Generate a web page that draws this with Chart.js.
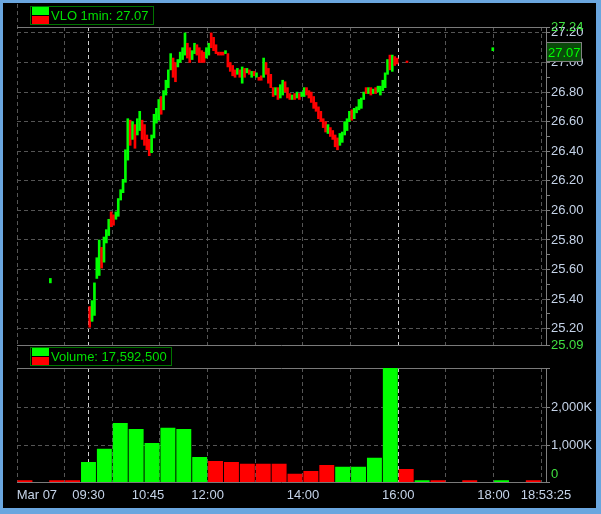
<!DOCTYPE html>
<html>
<head>
<meta charset="utf-8">
<script src="https://cdn.jsdelivr.net/npm/chart.js@4.4.1/dist/chart.umd.min.js"></script>
<style>
  html, body { margin: 0; padding: 0; }
  body { width: 601px; height: 514px; overflow: hidden; position: relative; background: #6aa6df;
         font-family: "Liberation Sans", Arial, sans-serif; }
  #screen { position: absolute; left: 3px; top: 3px; width: 593px; height: 505px; background: #000; }
  canvas { position: absolute; left: 0; }
  #priceCanvas { top: 0; }
  #volCanvas { top: 346px; }
  .edge { position: absolute; left: 17px; top: 4px; width: 1px; height: 478px;
          background: repeating-linear-gradient(to bottom, #555 0 4px, transparent 4px 7px); }
  .legend { position: absolute; left: 30px; height: 17px; border: 1px solid #007400;
            color: #00e000; font-size: 13px; line-height: 17px; padding: 0 4px 0 20px; white-space: nowrap; }
  .legend .up { position: absolute; left: 1px; top: 0; width: 17px; height: 8px; background: #00ff00; }
  .legend .dn { position: absolute; left: 1px; top: 9px; width: 17px; height: 8px; background: #ff0000; }
</style>
</head>
<body>
<div id="screen"></div>
<div class="edge"></div>
<canvas id="priceCanvas" width="601" height="354"></canvas>
<canvas id="volCanvas" width="601" height="162"></canvas>
<div class="legend" style="top:6px"><span class="up"></span><span class="dn"></span>VLO 1min: 27.07</div>
<div class="legend" style="top:347px"><span class="up"></span><span class="dn"></span>Volume: 17,592,500</div>
<script>
// 3-minute bars from the open
const sessionOpen = "09:30";
const barMinutes = 3;
const sessionHigh = [
  25.35, 25.39, 25.51, 25.68, 25.80, 25.75, 25.82, 25.87, 25.94, 25.99,
  25.97, 25.99, 26.08, 26.14, 26.21, 26.41, 26.62, 26.61, 26.60, 26.58,
  26.62, 26.67, 26.61, 26.58, 26.51, 26.48, 26.51, 26.65, 26.69, 26.75,
  26.77, 26.81, 26.88, 26.95, 27.06, 27.03, 27.00, 27.02, 27.07, 27.10,
  27.20, 27.13, 27.10, 27.08, 27.13, 27.12, 27.10, 27.08, 27.07, 27.10,
  27.13, 27.20, 27.17, 27.12, 27.07, 27.07, 27.07, 27.08, 27.06, 27.00,
  26.98, 26.95, 26.96, 26.95, 26.97, 26.96, 26.96, 26.95, 26.94, 26.94,
  26.93, 26.90, 26.91, 27.03, 27.00, 26.96, 26.92, 26.83, 26.83, 26.83,
  26.85, 26.88, 26.87, 26.83, 26.79, 26.78, 26.79, 26.80, 26.79, 26.80,
  26.83, 26.83, 26.81, 26.80, 26.77, 26.73, 26.70, 26.67, 26.62, 26.60,
  26.58, 26.56, 26.54, 26.51, 26.49, 26.52, 26.53, 26.60, 26.62, 26.67,
  26.68, 26.69, 26.70, 26.75, 26.76, 26.80, 26.83, 26.83, 26.83, 26.82,
  26.83, 26.84, 26.84, 26.88, 26.93, 27.02, 27.05, 27.05, 27.04, 27.03
];
const sessionLow = [
  25.21, 25.25, 25.29, 25.54, 25.56, 25.61, 25.65, 25.78, 25.83, 25.89,
  25.90, 25.94, 25.96, 26.07, 26.12, 26.19, 26.34, 26.44, 26.48, 26.42,
  26.51, 26.54, 26.48, 26.44, 26.41, 26.37, 26.39, 26.49, 26.59, 26.61,
  26.65, 26.68, 26.78, 26.83, 26.95, 26.90, 26.87, 26.97, 27.00, 27.02,
  27.05, 27.03, 27.00, 27.02, 27.06, 27.05, 27.00, 27.00, 27.00, 27.03,
  27.05, 27.10, 27.08, 27.06, 27.05, 27.05, 27.05, 27.06, 26.97, 26.94,
  26.91, 26.90, 26.92, 26.90, 26.86, 26.90, 26.93, 26.92, 26.90, 26.91,
  26.90, 26.88, 26.88, 26.90, 26.92, 26.86, 26.83, 26.77, 26.78, 26.75,
  26.76, 26.78, 26.80, 26.76, 26.75, 26.75, 26.75, 26.76, 26.75, 26.77,
  26.77, 26.78, 26.76, 26.73, 26.69, 26.67, 26.62, 26.60, 26.56, 26.53,
  26.52, 26.50, 26.48, 26.43, 26.41, 26.44, 26.46, 26.51, 26.54, 26.60,
  26.61, 26.62, 26.66, 26.68, 26.69, 26.75, 26.79, 26.79, 26.78, 26.79,
  26.79, 26.80, 26.78, 26.81, 26.83, 26.92, 26.95, 26.94, 26.98, 26.99
];
// G = close above open, R = close below open
const sessionDir = [
  "RGGGGRGGGR", "RGGGGGGRGR", "GGRRRRGGGG", "RGGGGRRGGG", "GRRGGRRRRG",
  "GRRRRRRGRR", "RRGRGRGRGR", "GRRGRRRRGR", "GGRRRGRGRG", "GRRRRRRRRR",
  "GRRRRGGGGG", "RGGGGGRGRG", "RGGGGGRGRR"
].join("");

// odd trades outside the session
const extraTimes = ["08:42", "16:11", "17:59"];
const extraHigh = [25.54, 27.01, 27.10];
const extraLow = [25.51, 27.00, 27.08];
const extraDir = "GRG";

const lastPrice = 27.07;

// 20-minute volume bars (start time)
const volStart = ["08:00", "08:40", "09:00", "09:20", "09:40", "10:00", "10:20", "10:40", "11:00", "11:20",
  "11:40", "12:00", "12:20", "12:40", "13:00", "13:20", "13:40", "14:00", "14:20", "14:40",
  "15:00", "15:20", "15:40", "16:00", "16:20", "16:40", "17:20", "18:00", "18:40"];
const volValues = [60000, 60000, 60000, 544000, 901000, 1590000, 1429000, 1054000, 1464000, 1429000,
  678000, 571000, 544000, 499000, 499000, 499000, 230000, 303000, 464000, 419000,
  419000, 660000, 3060000, 357000, 60000, 60000, 60000, 60000, 60000];
const volDir = "RRRGGGGGGGGRRRRRRRRGGGGRGRRGR";

// axes
const timeMin = "08:00";
const timeMax = "19:06";
const gridTimes = ["09:00", "09:30", "10:00", "11:00", "12:00", "13:00", "14:00", "15:00", "16:00", "17:00", "18:00", "19:00"];
const sessionLines = ["09:30", "16:00"];
const axisLabels = ["Mar 07", "09:30", "10:45", "12:00", "14:00", "16:00", "18:00", "18:53:25"];
const axisLabelAt = ["08:25", "09:30", "10:45", "12:00", "14:00", "16:00", "18:00", "19:06"];

const priceMin = 25.09;
const priceMax = 27.24;
const priceTicks = [25.20, 25.40, 25.60, 25.80, 26.00, 26.20, 26.40, 26.60, 26.80, 27.00, 27.20];
const priceMinor = [25.30, 25.50, 25.70, 25.90, 26.10, 26.30, 26.50, 26.70, 26.90, 27.10];
const volMax = 3060000;
const volTicks = [0, 1000000, 2000000];
const volTickLabels = ["0", "1,000K", "2,000K"];

const GREEN = "#00ff00";
const RED = "#ff0000";
const LABEL = "#c5d3e8";
const EDGE_LABEL = "#40e040";
const DASH_GRID = "#555555";
const SOLID_GRID = "#7a7a7a";

function toMin(s) {
  const p = s.split(":");
  return +p[0] * 60 + +p[1];
}
const xMin = toMin(timeMin);
const xMax = toMin(timeMax);

Chart.defaults.font.family = "'Liberation Sans', Arial, sans-serif";
Chart.defaults.font.size = 13;
Chart.defaults.animation = false;

function timeGridAxis() {
  return {
    type: "linear",
    min: xMin,
    max: xMax,
    offset: false,
    afterBuildTicks: (s) => { s.ticks = gridTimes.map((t) => ({ value: toMin(t) })); },
    ticks: { display: false },
    grid: {
      offset: false,
      drawTicks: false,
      color: (c) => c.tick && sessionLines.map(toMin).includes(c.tick.value) ? "#d0d0d0" : DASH_GRID,
    },
    border: { display: false, dash: [4, 3] },
  };
}

function fixWidth(s) { s.width = 55; }

// price
const sessionData = sessionHigh.map((h, i) => ({
  x: toMin(sessionOpen) + i * barMinutes + 1.5,
  y: [sessionLow[i], h],
}));
const extraData = extraTimes.map((t, i) => ({ x: toMin(t), y: [extraLow[i], extraHigh[i]] }));

const priceTag = {
  id: "priceTag",
  afterDraw(chart) {
    const ctx = chart.ctx;
    const y = Math.round(chart.scales.y.getPixelForValue(lastPrice));
    const x = chart.chartArea.right;
    ctx.save();
    ctx.fillStyle = "#0a4a0a";
    ctx.fillRect(x + 1, y - 9, 35, 19);
    ctx.strokeStyle = "#808080";
    ctx.lineWidth = 1;
    ctx.strokeRect(x + 0.5, y - 9.5, 35, 19);
    ctx.fillStyle = GREEN;
    ctx.font = "13px 'Liberation Sans', Arial, sans-serif";
    ctx.textBaseline = "middle";
    ctx.fillText(lastPrice.toFixed(2), x + 2, y + 1);
    ctx.restore();
  },
};

const priceKey = (v) => v.toFixed(2);
const priceChart = new Chart(document.getElementById("priceCanvas"), {
  type: "bar",
  data: {
    datasets: [
      {
        data: sessionData,
        backgroundColor: sessionData.map((_, i) => sessionDir[i] === "G" ? GREEN : RED),
        barThickness: 2,
        grouped: false,
      },
      {
        data: extraData,
        backgroundColor: extraData.map((_, i) => extraDir[i] === "G" ? GREEN : RED),
        barThickness: 2,
        grouped: false,
      },
    ],
  },
  options: {
    responsive: false,
    layout: { padding: { left: 17, top: 27, right: 0, bottom: 9 } },
    plugins: { legend: { display: false }, tooltip: { enabled: false } },
    scales: {
      x: timeGridAxis(),
      y: {
        position: "right",
        min: priceMin,
        max: priceMax,
        afterFit: fixWidth,
        afterBuildTicks: (s) => {
          s.ticks = [priceMin].concat(priceTicks, priceMinor, [priceMax])
            .sort((a, b) => a - b).map((v) => ({ value: v }));
        },
        ticks: {
          padding: 1,
          autoSkip: false,
          color: (c) => c.tick && (c.tick.value === priceMin || c.tick.value === priceMax) ? EDGE_LABEL : LABEL,
          callback: (v) => {
            if (v === priceMin || v === priceMax) return priceKey(v);
            return priceTicks.map(priceKey).includes(priceKey(v)) ? priceKey(v) : "";
          },
        },
        grid: {
          tickLength: 4,
          tickColor: "#808080",
          color: (c) => {
            if (!c.tick) return SOLID_GRID;
            const v = c.tick.value;
            if (v === priceMin || v === priceMax) return SOLID_GRID;
            return priceTicks.map(priceKey).includes(priceKey(v)) ? DASH_GRID : "rgba(0,0,0,0)";
          },
        },
        border: {
          color: "#808080",
          dash: (c) => c.tick && c.tick.value !== priceMin && c.tick.value !== priceMax ? [4, 3] : [],
        },
      },
    },
  },
  plugins: [priceTag],
});

// volume
const volData = volStart.map((t, i) => ({ x: toMin(t) + 10, y: volValues[i] }));
const volChart = new Chart(document.getElementById("volCanvas"), {
  type: "bar",
  data: {
    datasets: [{
      data: volData,
      backgroundColor: volData.map((_, i) => volDir[i] === "G" ? GREEN : RED),
      barPercentage: 0.94,
      categoryPercentage: 1,
      grouped: false,
    }],
  },
  options: {
    responsive: false,
    layout: { padding: { left: 17, top: 22, right: 0, bottom: 0 } },
    plugins: { legend: { display: false }, tooltip: { enabled: false } },
    scales: {
      x: timeGridAxis(),
      xl: {
        type: "linear",
        axis: "x",
        position: "bottom",
        min: xMin,
        max: xMax,
        offset: false,
        afterBuildTicks: (s) => { s.ticks = axisLabelAt.map((t) => ({ value: toMin(t) })); },
        ticks: {
          padding: 5,
          autoSkip: false,
          maxRotation: 0,
          color: LABEL,
          callback: (v, i) => axisLabels[i],
        },
        grid: { display: false, drawTicks: false },
        border: { display: false },
      },
      y: {
        position: "right",
        min: 0,
        max: volMax,
        afterFit: fixWidth,
        afterBuildTicks: (s) => { s.ticks = volTicks.concat([volMax]).map((v) => ({ value: v })); },
        ticks: {
          padding: 1,
          autoSkip: false,
          color: (c) => c.tick && c.tick.value === 0 ? EDGE_LABEL : LABEL,
          callback: (v) => {
            const i = volTicks.indexOf(v);
            if (i < 0) return "";
            return v === 0 ? [volTickLabels[i], ""] : volTickLabels[i];
          },
        },
        grid: {
          tickLength: 4,
          tickColor: "#808080",
          color: (c) => c.tick && c.tick.value !== 0 && c.tick.value !== volMax ? DASH_GRID : SOLID_GRID,
        },
        border: {
          color: "#808080",
          dash: (c) => c.tick && c.tick.value !== 0 && c.tick.value !== volMax ? [4, 3] : [],
        },
      },
    },
  },
});
</script>
</body>
</html>
